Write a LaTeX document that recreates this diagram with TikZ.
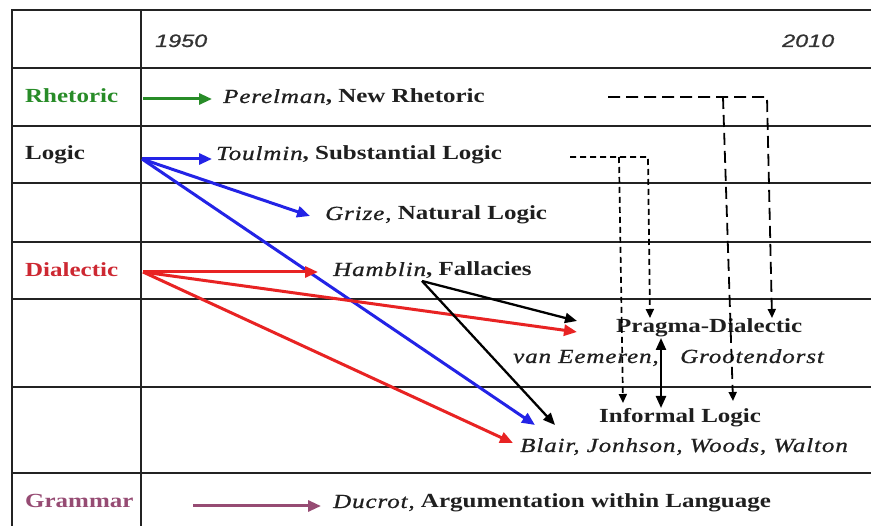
\documentclass[tikz,border=0pt]{standalone}
\usepackage{fontspec}
\setmainfont[FakeStretch=1.25]{Liberation Serif}
\newfontfamily\namefont[FakeStretch=1.25,LetterSpace=4.5,FakeBold=0.8]{Liberation Serif}
\newfontfamily\yearfont[FakeStretch=1.3,FakeBold=1]{Liberation Sans}
\usetikzlibrary{arrows.meta}

\definecolor{rhetgreen}{RGB}{40,140,40}
\definecolor{dialred}{RGB}{232,35,35}
\definecolor{labelred}{RGB}{205,40,50}
\definecolor{logicblue}{RGB}{35,35,230}
\definecolor{grampurple}{RGB}{150,75,115}
\definecolor{gridgray}{RGB}{35,35,35}

\newcommand\who[1]{{\namefont\mdseries\itshape #1}}

\begin{document}
\begin{tikzpicture}[x=1pt,y=-1pt,
  grid/.style={draw=gridgray,line width=1.4pt},
  rowlbl/.style={anchor=base west,inner sep=0pt,font=\fontsize{20}{24}\selectfont\bfseries},
  work/.style={anchor=base west,inner sep=0pt,font=\fontsize{20}{24}\selectfont\bfseries,text=black!88},
  yearlbl/.style={anchor=base west,inner sep=0pt,font=\fontsize{18}{22}\selectfont\yearfont\itshape,text=black!80},
  flow/.style={line width=3pt,-{Triangle[length=13pt,width=11pt]}},
  link/.style={line width=2.3pt,draw=black,-{Triangle[length=12pt,width=10pt]}},
  longdash/.style={line width=1.8pt,dash pattern=on 12pt off 6pt,-{Triangle[length=9pt,width=8pt]}},
  shortdash/.style={line width=1.7pt,dash pattern=on 6pt off 4pt,-{Triangle[length=9pt,width=8pt]}}
]
\useasboundingbox (0,0) rectangle (871,526);
\fill[white] (0,0) rectangle (871,526);

% table grid
\draw[grid] (12,526) -- (12,10) -- (871,10);
\draw[grid] (141,10) -- (141,526);
\foreach \yy in {68,126,183,242,299,387,473}
  \draw[grid] (12,\yy) -- (871,\yy);

% years
\node[yearlbl] (y1950) at (155,47) {1950};
\node[yearlbl] (y2010) at (782,47) {2010};

% row labels
\node[rowlbl,text=rhetgreen] (rhetoric) at (25,103) {Rhetoric};
\node[rowlbl,text=black!88] (logic) at (25,160) {Logic};
\node[rowlbl,text=labelred] (dialectic) at (25,277) {Dialectic};
\node[rowlbl,text=grampurple] (grammar) at (25,508) {Grammar};

% works
\node[work] (perelman) at (223,103) {\who{Perelman}, New Rhetoric};
\node[work] (toulmin) at (216,160) {\who{Toulmin}, Substantial Logic};
\node[work] (grize) at (325,220) {\who{Grize,} Natural Logic};
\node[work] (hamblin) at (333,276) {\who{Hamblin}, Fallacies};
\node[work] (pragma) at (616,333) {Pragma-Dialectic};
\node[work] (eemeren) at (513,363) {\who{van Eemeren,}};
\node[work] (grootendorst) at (680,363) {\who{Grootendorst}};
\node[work] (informal) at (599,423) {Informal Logic};
\node[work] (blair) at (520,452) {\who{Blair, Jonhson, Woods, Walton}};
\node[work] (ducrot) at (333,508) {\who{Ducrot,} Argumentation within Language};

% connector end points
\coordinate (rhetO) at (143,99);
\coordinate (perelmanIn) at (212,99);
\coordinate (logicO) at (142,159);
\coordinate (toulminIn) at (212,159);
\coordinate (grizeIn) at (310,216);
\coordinate (blairInB) at (535,425);
\coordinate (dialO) at (143,272);
\coordinate (hamblinIn) at (318,272);
\coordinate (pragmaInR) at (577,332);
\coordinate (blairInR) at (513,443);
\coordinate (hamblinOut) at (422,281);
\coordinate (pragmaInK) at (577,321);
\coordinate (blairInK) at (555,425);
\coordinate (pragmaLow) at (661,338);
\coordinate (informalTop) at (661,408);
\coordinate (gramO) at (193,506);
\coordinate (ducrotIn) at (321,506);

% dashed influence paths
\coordinate (rStart) at (608,97);
\coordinate (rT) at (723,97);
\coordinate (rCorner) at (767,97);
\coordinate (rPragma) at (772,318);
\coordinate (rInformal) at (733,401);
\coordinate (tStart) at (570,157);
\coordinate (tT) at (619,157);
\coordinate (tCorner) at (648,157);
\coordinate (tPragma) at (650,318);
\coordinate (tInformal) at (623,403);

% solid arrows
\draw[flow,rhetgreen] (rhetO) -- (perelmanIn);
\draw[flow,logicblue] (logicO) -- (toulminIn);
\draw[flow,logicblue] (logicO) -- (grizeIn);
\draw[flow,logicblue] (logicO) -- (blairInB);
\draw[flow,dialred] (dialO) -- (hamblinIn);
\draw[flow,dialred] (dialO) -- (pragmaInR);
\draw[flow,dialred] (dialO) -- (blairInR);
\draw[link] (hamblinOut) -- (pragmaInK);
\draw[link] (hamblinOut) -- (blairInK);
\draw[link,{Triangle[length=12pt,width=10pt]}-{Triangle[length=12pt,width=10pt]}] (pragmaLow) -- (informalTop);
\draw[flow,grampurple] (gramO) -- (ducrotIn);

% dashed arrows
\draw[longdash] (rStart) -- (rCorner) -- (rPragma);
\draw[longdash] (rT) -- (rInformal);
\draw[shortdash] (tStart) -- (tCorner) -- (tPragma);
\draw[shortdash] (tT) -- (tInformal);
\end{tikzpicture}
\end{document}
